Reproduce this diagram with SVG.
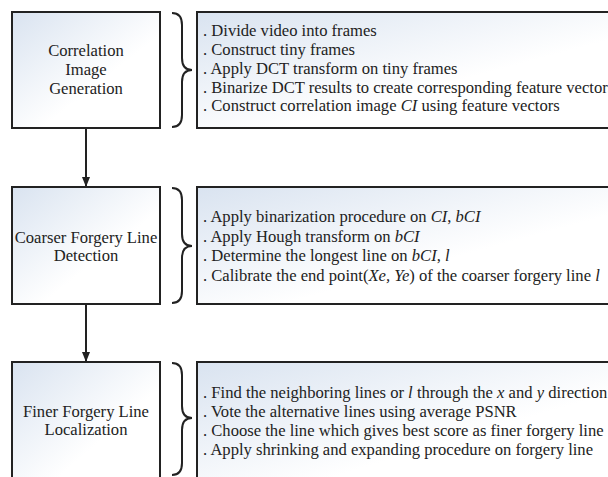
<svg xmlns="http://www.w3.org/2000/svg" width="608" height="477" viewBox="0 0 608 477">
<style>
.box{stroke:#222;stroke-width:2;fill:url(#g)}
.brace{fill:none;stroke:#222;stroke-width:2}
.t{font-family:"Liberation Serif","Times New Roman",serif;font-size:16.6px;fill:#222}
.c{text-anchor:middle}
.conn{stroke:#222;stroke-width:2;fill:none}
</style>
<defs>
<linearGradient id="g" x1="0" y1="0" x2="1" y2="1">
<stop offset="0" stop-color="#d9e3f0"/>
<stop offset="0.6" stop-color="#ffffff"/>
<stop offset="1" stop-color="#ffffff"/>
</linearGradient>
<marker id="ah" markerWidth="10" markerHeight="10" refX="9" refY="5" orient="auto" markerUnits="userSpaceOnUse">
<path d="M0,1 L10,5 L0,9 Z" fill="#222"/>
</marker>
</defs>
<g id="connectors">
<line class="conn" x1="86" y1="129" x2="86" y2="186" marker-end="url(#ah)"/>
<line class="conn" x1="86" y1="305" x2="86" y2="361" marker-end="url(#ah)"/>
</g>
<g id="node1">
<rect class="box" x="12" y="12" width="148" height="116"/>
<text class="t c" x="86" y="56">Correlation</text>
<text class="t c" x="86" y="75">Image</text>
<text class="t c" x="86" y="94">Generation</text>
</g>
<g id="brace1"><path class="brace" d="M172,13 Q182,13 182,25 L182,58 Q182,70 192,70 Q182,70 182,82 L182,115 Q182,127 172,127"/></g>
<g id="detail1">
<rect class="box" x="197" y="12" width="430" height="116"/>
<text class="t" x="203" y="36">. Divide video into frames</text>
<text class="t" x="203" y="54.5">. Construct tiny frames</text>
<text class="t" x="203" y="73.5">. Apply DCT transform on tiny frames</text>
<text class="t" x="203" y="92.5">. Binarize DCT results to create corresponding feature vectors</text>
<text class="t" x="203" y="111">. Construct correlation image <tspan font-style="italic">CI</tspan> using feature vectors</text>
</g>
<g id="node2">
<rect class="box" x="12" y="187" width="148" height="117"/>
<text class="t c" x="86" y="243">Coarser Forgery Line</text>
<text class="t c" x="86" y="261">Detection</text>
</g>
<g id="brace2"><path class="brace" d="M172,188 Q182,188 182,200 L182,234 Q182,246 192,246 Q182,246 182,258 L182,291 Q182,303 172,303"/></g>
<g id="detail2">
<rect class="box" x="197" y="187" width="430" height="117"/>
<text class="t" x="203" y="222">. Apply binarization procedure on <tspan font-style="italic">CI</tspan>, <tspan font-style="italic">bCI</tspan></text>
<text class="t" x="203" y="241.5">. Apply Hough transform on <tspan font-style="italic">bCI</tspan></text>
<text class="t" x="203" y="261">. Determine the longest line on <tspan font-style="italic">bCI</tspan>, <tspan font-style="italic">l</tspan></text>
<text class="t" x="203" y="280.5">. Calibrate the end point(<tspan font-style="italic">Xe, Ye</tspan>) of the coarser forgery line <tspan font-style="italic">l</tspan></text>
</g>
<g id="node3">
<rect class="box" x="12" y="362" width="148" height="130"/>
<text class="t c" x="86" y="417">Finer Forgery Line</text>
<text class="t c" x="86" y="435">Localization</text>
</g>
<g id="brace3"><path class="brace" d="M172,363 Q182,363 182,375 L182,406 Q182,418 192,418 Q182,418 182,430 L182,463 Q182,475 172,475"/></g>
<g id="detail3">
<rect class="box" x="197" y="362" width="430" height="130"/>
<text class="t" x="203" y="398">. Find the neighboring lines or <tspan font-style="italic">l</tspan> through the <tspan font-style="italic">x</tspan> and <tspan font-style="italic">y</tspan> direction</text>
<text class="t" x="203" y="417">. Vote the alternative lines using average PSNR</text>
<text class="t" x="203" y="436">. Choose the line which gives best score as finer forgery line</text>
<text class="t" x="203" y="455">. Apply shrinking and expanding procedure on forgery line</text>
</g>
</svg>
